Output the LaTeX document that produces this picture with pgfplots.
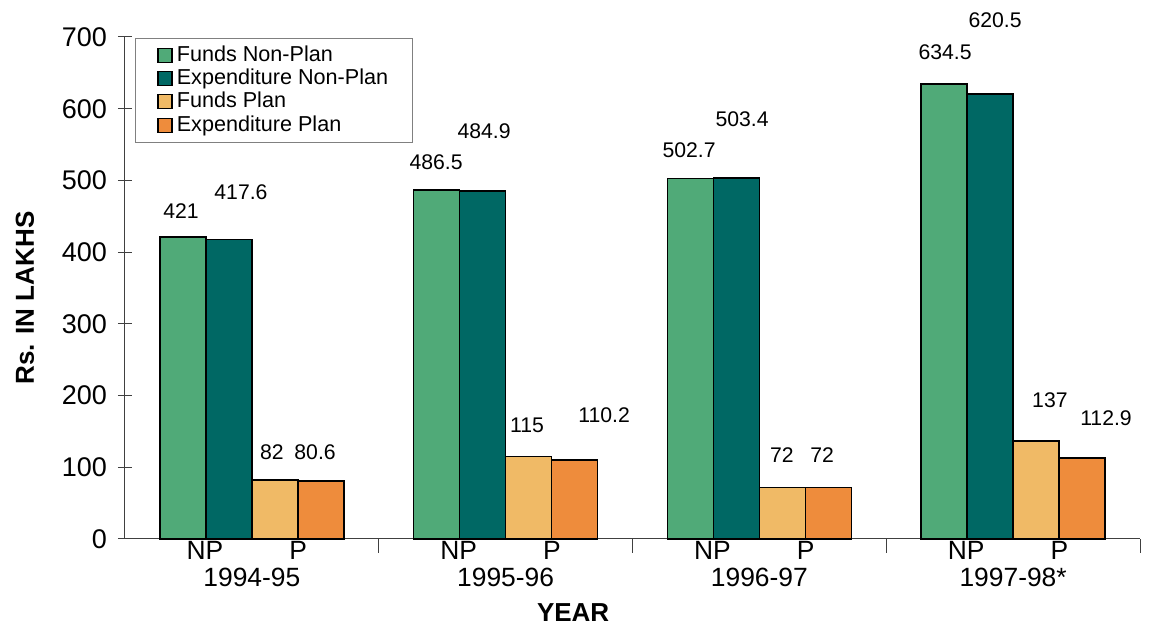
\documentclass[border=0pt]{standalone}
\usepackage{pgfplots}
\pgfplotsset{compat=1.18}
\usepackage{fontspec}
\setmainfont{Liberation Sans}
\definecolor{fnp}{RGB}{80,170,120}
\definecolor{enp}{RGB}{0,104,100}
\definecolor{fp}{RGB}{240,186,102}
\definecolor{ep}{RGB}{238,140,60}
\newcommand{\vl}{\fontsize{10.6pt}{12pt}\selectfont}
\newcommand{\gl}{\fontsize{13.2pt}{14pt}\selectfont}
\begin{document}
\begin{tikzpicture}
\begin{axis}[name=ax, scale only axis, width=507.5pt, height=251pt,
 xmin=-0.5, xmax=3.5, ymin=0, ymax=700,
 axis lines=left, axis line style={-, black!75, line width=0.5pt},
 ytick={0,100,...,700}, xtick={0.5,1.5,2.5,3.5}, xticklabels={},
 tick align=center, major tick length=7pt, tick style={black!75, line width=0.5pt},
 yticklabel style={font=\fontsize{13.5pt}{14pt}\selectfont, xshift=-2pt},
 /pgf/number format/assume math mode=true,
 ybar=0pt, bar width=23pt,
 clip=false,
 legend style={at={(0.00985,0.998)}, anchor=north west, draw=black!50, line width=0.4pt,
   font=\fontsize{10.8pt}{11.5pt}\selectfont, inner xsep=11pt, inner ysep=2.5pt,
   row sep=0pt, nodes={inner sep=1pt, text height=7.8pt, text depth=1.9pt}},
 legend cell align=left,
 legend image code/.code={\draw[#1,line width=0.6pt] (0pt,-3.5pt) rectangle (7pt,3.5pt); \path (8pt,0pt);},
]
\addplot[draw=black, line width=0.8pt, fill=fnp] coordinates {(0,421) (1,486.5) (2,502.7) (3,634.5)};
\addplot[draw=black, line width=0.8pt, fill=enp] coordinates {(0,417.6) (1,484.9) (2,503.4) (3,620.5)};
\addplot[draw=black, line width=0.8pt, fill=fp] coordinates {(0,82) (1,115) (2,72) (3,137)};
\addplot[draw=black, line width=0.8pt, fill=ep] coordinates {(0,80.6) (1,110.2) (2,72) (3,112.9)};
\legend{Funds Non-Plan, Expenditure Non-Plan, Funds Plan, Expenditure Plan}
% value labels
\node[font=\vl] at (axis cs:-0.279,457.4) {421};
\node[font=\vl] at (axis cs:-0.043,483.9) {417.6};
\node[font=\vl] at (axis cs:0.726,525.7) {486.5};
\node[font=\vl] at (axis cs:0.915,568.9) {484.9};
\node[font=\vl] at (axis cs:1.723,542.4) {502.7};
\node[font=\vl] at (axis cs:1.932,585.7) {503.4};
\node[font=\vl] at (axis cs:2.732,679.1) {634.5};
\node[font=\vl] at (axis cs:2.929,723.7) {620.5};
\node[font=\vl] at (axis cs:0.079,121.3) {82};
\node[font=\vl] at (axis cs:0.249,121.3) {80.6};
\node[font=\vl] at (axis cs:1.084,159.0) {115};
\node[font=\vl] at (axis cs:1.388,172.9) {110.2};
\node[font=\vl] at (axis cs:2.089,117.1) {72};
\node[font=\vl] at (axis cs:2.247,117.1) {72};
\node[font=\vl] at (axis cs:3.145,193.8) {137};
\node[font=\vl] at (axis cs:3.366,168.7) {112.9};
% group labels
\node[font=\gl] at (axis cs:-0.185,-15.3) {NP};
\node[font=\gl] at (axis cs:0.182,-15.3) {P};
\node[font=\gl] at (axis cs:0.815,-15.3) {NP};
\node[font=\gl] at (axis cs:1.182,-15.3) {P};
\node[font=\gl] at (axis cs:1.815,-15.3) {NP};
\node[font=\gl] at (axis cs:2.182,-15.3) {P};
\node[font=\gl] at (axis cs:2.815,-15.3) {NP};
\node[font=\gl] at (axis cs:3.182,-15.3) {P};
\node[font=\gl] at (axis cs:0,-53) {1994-95};
\node[font=\gl] at (axis cs:1,-53) {1995-96};
\node[font=\gl] at (axis cs:2,-53) {1996-97};
\node[font=\gl] at (axis cs:3,-53) {1997-98*};
\node[font=\fontsize{13pt}{14pt}\selectfont\bfseries] at (axis cs:1.266,-102.5) {YEAR};
\node[font=\fontsize{13pt}{14pt}\selectfont\bfseries, rotate=90] at ([xshift=-50pt]axis cs:-0.5,336) {Rs. IN LAKHS};
\end{axis}
\pgfresetboundingbox
\path (ax.south west) ++(-62.5pt,-43pt) rectangle ++(574.5pt,312.5pt);
\end{tikzpicture}
\end{document}
